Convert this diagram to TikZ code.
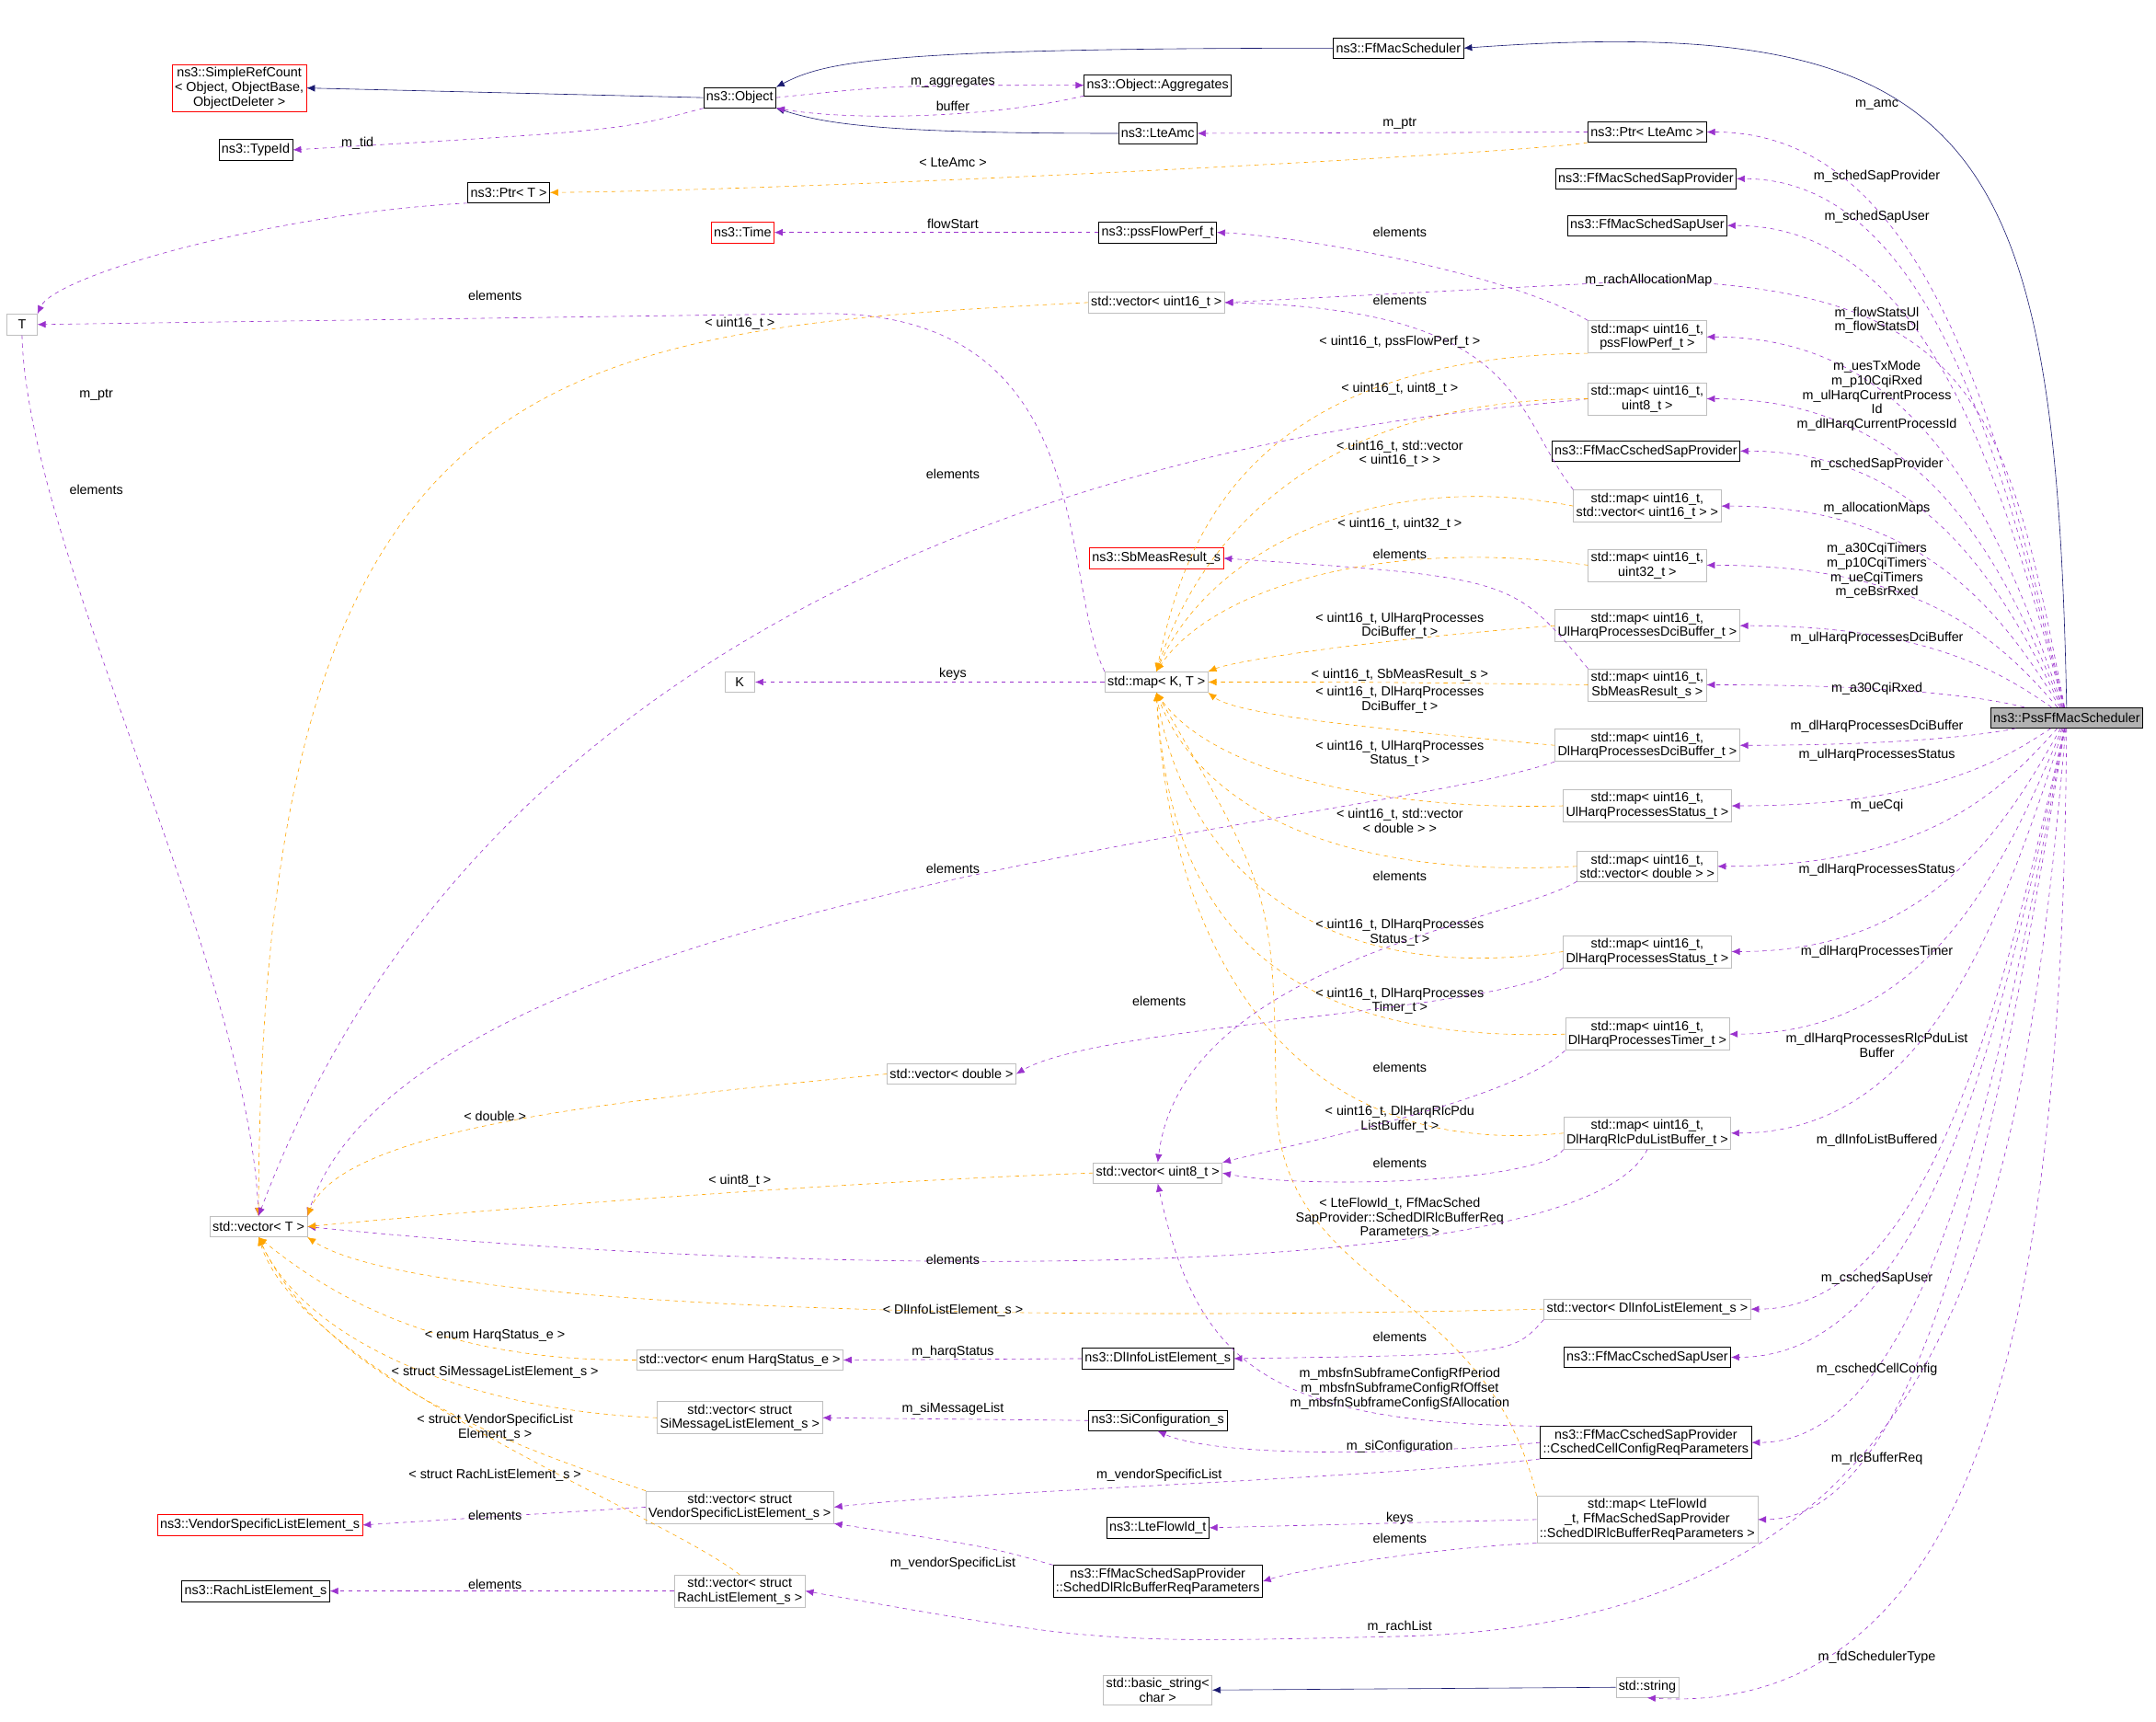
\documentclass[tikz,border=0pt]{standalone}
\usepackage{fontspec}
\setmainfont{Liberation Sans}
\usetikzlibrary{arrows.meta}
\definecolor{dpurple}{HTML}{9A32CD}
\definecolor{dorange}{HTML}{FFA500}
\definecolor{dnavy}{HTML}{191970}
\definecolor{gbord}{HTML}{BFBFBF}
\begin{document}
\begin{tikzpicture}[x=1pt,y=-1pt,
  box/.style={draw=black,fill=white,font=\fontsize{9.6}{10.5}\selectfont,inner sep=2pt,minimum height=15pt,align=center},
  gbox/.style={box,draw=gbord},
  rbox/.style={box,draw=red},
  lbl/.style={font=\fontsize{9.6}{10.5}\selectfont,inner sep=0.5pt,align=center},
  use/.style={draw=dpurple,dashed,-{Latex[length=6pt,width=5pt]}},
  tpl/.style={draw=dorange,dashed,-{Latex[length=6pt,width=5pt]}},
  inh/.style={draw=dnavy,-{Latex[length=6pt,width=5pt]}}]
\useasboundingbox (0,0) rectangle (1568,1251.6);
% nodes
\node[box] (ffms) at (1017,35) {ns3::FfMacScheduler};
\node[rbox] (src) at (174,64) {ns3::SimpleRefCount\\< Object, ObjectBase,\\ObjectDeleter >};
\node[box] (obj) at (538,71) {ns3::Object};
\node[box] (agg) at (842,62) {ns3::Object::Aggregates};
\node[box] (tid) at (186,109) {ns3::TypeId};
\node[box] (lteamc) at (842,97) {ns3::LteAmc};
\node[box] (ptrl) at (1198,96) {ns3::Ptr< LteAmc >};
\node[box] (ptrt) at (370,140) {ns3::Ptr< T >};
\node[box] (sapp) at (1197,130) {ns3::FfMacSchedSapProvider};
\node[box] (sapu) at (1198,164) {ns3::FfMacSchedSapUser};
\node[rbox] (time) at (540,169) {ns3::Time};
\node[box] (pfpt) at (842,169) {ns3::pssFlowPerf\_t};
\node[gbox,minimum width=22pt] (T) at (16,236) {T};
\node[gbox] (vu16) at (841,220) {std::vector< uint16\_t >};
\node[gbox] (mpfp) at (1198,245) {std::map< uint16\_t,\\pssFlowPerf\_t >};
\node[gbox] (mu8) at (1198,290) {std::map< uint16\_t,\\uint8\_t >};
\node[box] (csp) at (1197,328) {ns3::FfMacCschedSapProvider};
\node[gbox] (mvu16) at (1198,368) {std::map< uint16\_t,\\std::vector< uint16\_t > >};
\node[rbox] (sbm) at (841,406) {ns3::SbMeasResult\_s};
\node[gbox] (mu32) at (1198,411) {std::map< uint16\_t,\\uint32\_t >};
\node[gbox] (muld) at (1198,455) {std::map< uint16\_t,\\UlHarqProcessesDciBuffer\_t >};
\node[gbox,minimum width=22pt] (K) at (538,496) {K};
\node[gbox] (mkt) at (841,496) {std::map< K, T >};
\node[gbox] (msb) at (1198,498) {std::map< uint16\_t,\\SbMeasResult\_s >};
\node[gbox] (mdld) at (1198,542) {std::map< uint16\_t,\\DlHarqProcessesDciBuffer\_t >};
\node[gbox] (muls) at (1198,586) {std::map< uint16\_t,\\UlHarqProcessesStatus\_t >};
\node[gbox] (mvd) at (1198,630) {std::map< uint16\_t,\\std::vector< double > >};
\node[gbox] (mdls) at (1198,692) {std::map< uint16\_t,\\DlHarqProcessesStatus\_t >};
\node[gbox] (vd) at (692,781) {std::vector< double >};
\node[gbox] (mdlt) at (1198,752) {std::map< uint16\_t,\\DlHarqProcessesTimer\_t >};
\node[gbox] (mdlr) at (1198,824) {std::map< uint16\_t,\\DlHarqRlcPduListBuffer\_t >};
\node[gbox] (vu8) at (842,853) {std::vector< uint8\_t >};
\node[gbox] (vT) at (188,892) {std::vector< T >};
\node[box,fill=gray!60] (pss) at (1503,522) {ns3::PssFfMacScheduler};
\node[gbox] (vdi) at (1198,952) {std::vector< DlInfoListElement\_s >};
\node[box] (csu) at (1198,987) {ns3::FfMacCschedSapUser};
\node[gbox] (ve) at (538,989) {std::vector< enum HarqStatus\_e >};
\node[box] (dli) at (842,988) {ns3::DlInfoListElement\_s};
\node[gbox] (vsi) at (538,1031) {std::vector< struct\\SiMessageListElement\_s >};
\node[box] (sic) at (842,1033) {ns3::SiConfiguration\_s};
\node[box] (ccc) at (1197,1049) {ns3::FfMacCschedSapProvider\\::CschedCellConfigReqParameters};
\node[gbox] (vv) at (538,1096) {std::vector< struct\\VendorSpecificListElement\_s >};
\node[rbox] (vsle) at (189,1109) {ns3::VendorSpecificListElement\_s};
\node[box] (lft) at (842,1111) {ns3::LteFlowId\_t};
\node[gbox] (mlf) at (1198,1105) {std::map< LteFlowId\\\_t, FfMacSchedSapProvider\\::SchedDlRlcBufferReqParameters >};
\node[box] (sdr) at (842,1150) {ns3::FfMacSchedSapProvider\\::SchedDlRlcBufferReqParameters};
\node[box] (rach) at (186,1157) {ns3::RachListElement\_s};
\node[gbox] (vr) at (538,1157) {std::vector< struct\\RachListElement\_s >};
\node[gbox] (bs) at (842,1229) {std::basic\_string<\\char >};
\node[gbox] (str) at (1198,1227) {std::string};

% inheritance
\draw[inh] (pss.north) .. controls (1495,100) and (1440,8) .. (ffms.east);
\draw[inh] (obj.west) -- (src.east);
\draw[inh] (lteamc.west) .. controls (640,97) and (600,90) .. (obj.south east);
\draw[inh] (ffms.west) .. controls (640,35) and (600,45) .. (obj.north east);
\draw[inh] (str.west) -- (bs.east);

% top-left
\draw[use] (obj.south west) .. controls (450,95) .. (tid.east); \node[lbl] (l1) at (260,104) {m\_tid};
\draw[use] (obj.east) .. controls (650,62) .. (agg.west); \node[lbl] (l2) at (693,60) {m\_aggregates};
\draw[use] (agg.south west) .. controls (720,86) and (620,88) .. (obj.south east); \node[lbl] (l3) at (693,77) {buffer};
\draw[use] (ptrl.west) -- (lteamc.east); \node[lbl] (l4) at (1018,90) {m\_ptr};
\draw[tpl] (ptrl.south west) .. controls (1100,112) and (600,138) .. (ptrt.east); \node[lbl] (l5) at (693,118) {< LteAmc >};
\draw[use] (ptrt.south west) .. controls (200,155) and (40,200) .. (T.north east); \node[lbl] (l6) at (70,287) {m\_ptr};
\draw[use] (T.south) .. controls (20,400) and (180,700) .. (vT.north); \node[lbl] (l6b) at (70,356) {elements};
\draw[use] (pfpt.west) -- (time.east); \node[lbl] (l7) at (693,163) {flowStart};
\draw[use] (mpfp.north west) .. controls (1100,200) and (950,172) .. (pfpt.east); \node[lbl] (l8) at (1018,169) {elements};
\draw[use] (mkt.north west) .. controls (770,420) and (800,228) .. (600,228) -- (T.east); \node[lbl] (l9) at (360,215) {elements};
\draw[tpl] (vu16.west) .. controls (400,240) and (190,260) .. (vT.north); \node[lbl] (l10) at (538,235) {< uint16\_t >};
\draw[use] (mvu16.north west) .. controls (1100,300) and (1110,225) .. (vu16.east); \node[lbl] (l11) at (1018,218) {elements};
\draw[use] (mu8.west) .. controls (1090,300) and (400,320) .. (vT.north); \node[lbl] (l12) at (693,345) {elements};
\draw[use] (msb.north west) .. controls (1100,420) .. (sbm.east); \node[lbl] (l13) at (1018,403) {elements};
\draw[use] (mkt.west) -- (K.east); \node[lbl] (l14) at (693,490) {keys};

% template to map<K,T>
\draw[tpl] (mpfp.south west) .. controls (900,260) and (860,400) .. (mkt.north); \node[lbl] (o1) at (1018,249) {< uint16\_t, pssFlowPerf\_t >};
\draw[tpl] (mu8.west) .. controls (950,290) and (870,400) .. (mkt.north); \node[lbl] (o2) at (1018,283) {< uint16\_t, uint8\_t >};
\draw[tpl] (mvu16.west) .. controls (1000,340) and (880,400) .. (mkt.north); \node[lbl] (o3) at (1018,330) {< uint16\_t, std::vector\\< uint16\_t > >};
\draw[tpl] (mu32.west) .. controls (1000,390) and (880,430) .. (mkt.north); \node[lbl] (o4) at (1018,381) {< uint16\_t, uint32\_t >};
\draw[tpl] (muld.west) .. controls (1000,465) and (900,480) .. (mkt.north east); \node[lbl] (o5) at (1018,455) {< uint16\_t, UlHarqProcesses\\DciBuffer\_t >};
\draw[tpl] (msb.west) .. controls (1000,496) .. (mkt.east); \node[lbl] (o6) at (1018,491) {< uint16\_t, SbMeasResult\_s >};
\draw[tpl] (mdld.west) .. controls (1000,530) and (900,520) .. (mkt.south east); \node[lbl] (o7) at (1018,509) {< uint16\_t, DlHarqProcesses\\DciBuffer\_t >};
\draw[tpl] (muls.west) .. controls (1000,590) and (880,560) .. (mkt.south); \node[lbl] (o8) at (1018,548) {< uint16\_t, UlHarqProcesses\\Status\_t >};
\draw[tpl] (mvd.west) .. controls (960,640) and (870,580) .. (mkt.south); \node[lbl] (o9) at (1018,597) {< uint16\_t, std::vector\\< double > >};
\draw[tpl] (mdls.west) .. controls (950,720) and (860,620) .. (mkt.south); \node[lbl] (o10) at (1018,678) {< uint16\_t, DlHarqProcesses\\Status\_t >};
\draw[tpl] (mdlt.west) .. controls (900,760) and (850,640) .. (mkt.south); \node[lbl] (o11) at (1018,728) {< uint16\_t, DlHarqProcesses\\Timer\_t >};
\draw[tpl] (mdlr.west) .. controls (930,845) and (850,680) .. (mkt.south); \node[lbl] (o12) at (1018,814) {< uint16\_t, DlHarqRlcPdu\\ListBuffer\_t >};
\draw[tpl] (mlf.north west) .. controls (1080,930) and (930,940) .. (928,800) .. controls (926,650) .. (mkt.south); \node[lbl] (o13) at (1018,885) {< LteFlowId\_t, FfMacSched\\SapProvider::SchedDlRlcBufferReq\\Parameters >};

% middle usage
\draw[use] (mdld.south west) .. controls (1000,600) and (300,650) .. (vT.north east); \node[lbl] (l15) at (693,632) {elements};
\draw[use] (mvd.south west) .. controls (1100,670) and (860,700) .. (vu8.north); \node[lbl] (l16) at (1018,637) {elements};
\draw[use] (mdls.south west) .. controls (1100,735) and (800,745) .. (vd.east); \node[lbl] (l17) at (843,728) {elements};
\draw[use] (mdlt.south west) .. controls (1100,800) and (950,830) .. (vu8.north east); \node[lbl] (l18) at (1018,776) {elements};
\draw[use] (mdlr.south west) .. controls (1120,860) and (950,865) .. (vu8.east); \node[lbl] (l19) at (1018,846) {elements};
\draw[use] (mdlr.south) .. controls (1150,935) and (600,930) .. (vT.east); \node[lbl] (l20) at (693,916) {elements};
\draw[tpl] (vd.west) .. controls (450,800) and (250,820) .. (vT.north east); \node[lbl] (l21) at (360,812) {< double >};
\draw[tpl] (vu8.west) .. controls (600,860) and (350,880) .. (vT.east); \node[lbl] (l22) at (538,859) {< uint8\_t >};

% lower
\draw[tpl] (vdi.west) .. controls (700,962) and (300,950) .. (vT.south east); \node[lbl] (l23) at (693,953) {< DlInfoListElement\_s >};
\draw[use] (dli.west) -- (ve.east); \node[lbl] (l24) at (693,983) {m\_harqStatus};
\draw[use] (vdi.south west) .. controls (1100,985) .. (dli.east); \node[lbl] (l25) at (1018,972) {elements};
\draw[tpl] (ve.west) .. controls (330,990) and (250,950) .. (vT.south); \node[lbl] (l26) at (360,971) {< enum HarqStatus\_e >};
\draw[tpl] (vsi.west) .. controls (330,1025) and (220,970) .. (vT.south); \node[lbl] (l27) at (360,998) {< struct SiMessageListElement\_s >};
\draw[use] (sic.west) -- (vsi.east); \node[lbl] (l28) at (693,1025) {m\_siMessageList};
\draw[use] (ccc.west) .. controls (1000,1060) and (880,1058) .. (sic.south); \node[lbl] (l29) at (1018,1052) {m\_siConfiguration};
\draw[use] (ccc.north west) .. controls (920,1035) and (870,990) .. (vu8.south); \node[lbl] (l30) at (1018,1010) {m\_mbsfnSubframeConfigRfPeriod\\m\_mbsfnSubframeConfigRfOffset\\m\_mbsfnSubframeConfigSfAllocation};
\draw[tpl] (vv.north west) .. controls (400,1060) and (240,1010) .. (vT.south); \node[lbl] (l31) at (360,1038) {< struct VendorSpecificList\\Element\_s >};
\draw[use] (ccc.south west) .. controls (1000,1075) and (700,1085) .. (vv.east); \node[lbl] (l32) at (843,1073) {m\_vendorSpecificList};
\draw[use] (vv.west) -- (vsle.east); \node[lbl] (l33) at (360,1102) {elements};
\draw[tpl] (vr.north) .. controls (480,1100) and (220,1000) .. (vT.south); \node[lbl] (l34) at (360,1073) {< struct RachListElement\_s >};
\draw[use] (vr.west) -- (rach.east); \node[lbl] (l35) at (360,1152) {elements};
\draw[use] (sdr.north west) .. controls (720,1125) .. (vv.south east); \node[lbl] (l36) at (693,1137) {m\_vendorSpecificList};
\draw[use] (mlf.west) -- (lft.east); \node[lbl] (l37) at (1018,1104) {keys};
\draw[use] (mlf.south west) .. controls (1050,1125) and (950,1140) .. (sdr.east); \node[lbl] (l38) at (1018,1119) {elements};

% PssFfMacScheduler members
\newcommand{\mem}[4]{\draw[use] (pss) .. controls (1455,{(#2+522)/2}) and (1400,#2) .. (#1);
  \node[lbl] at (#4) {#3};}
\mem{ptrl}{96}{m\_amc}{1365,76}
\mem{sapp}{130}{m\_schedSapProvider}{1365,128}
\mem{sapu}{164}{m\_schedSapUser}{1365,158}
\draw[use] (pss) .. controls (1460,300) and (1440,210) .. (1200,204) -- (vu16.east); \node[lbl] at (1199,204) {m\_rachAllocationMap};
\mem{mpfp}{245}{m\_flowStatsUl\\m\_flowStatsDl}{1365,233}
\mem{mu8}{290}{m\_uesTxMode\\m\_p10CqiRxed\\m\_ulHarqCurrentProcess\\Id\\m\_dlHarqCurrentProcessId}{1365,288}
\mem{csp}{328}{m\_cschedSapProvider}{1365,338}
\mem{mvu16}{368}{m\_allocationMaps}{1365,370}
\mem{mu32}{411}{m\_a30CqiTimers\\m\_p10CqiTimers\\m\_ueCqiTimers\\m\_ceBsrRxed}{1365,415}
\mem{muld}{455}{m\_ulHarqProcessesDciBuffer}{1365,464}
\mem{msb}{498}{m\_a30CqiRxed}{1365,501}
\mem{mdld}{542}{m\_dlHarqProcessesDciBuffer}{1365,528}
\mem{muls}{586}{m\_ulHarqProcessesStatus}{1365,549}
\mem{mvd}{630}{m\_ueCqi}{1365,586}
\mem{mdls}{692}{m\_dlHarqProcessesStatus}{1365,633}
\mem{mdlt}{752}{m\_dlHarqProcessesTimer}{1365,692}
\mem{mdlr}{824}{m\_dlHarqProcessesRlcPduList\\Buffer}{1365,760}
\mem{vdi}{952}{m\_dlInfoListBuffered}{1365,829}
\mem{csu}{987}{m\_cschedSapUser}{1365,930}
\mem{ccc}{1049}{m\_cschedCellConfig}{1365,996}
\mem{mlf}{1105}{m\_rlcBufferReq}{1365,1061}
\draw[use] (pss) .. controls (1470,900) and (1420,1180) .. (1018,1190) .. controls (800,1195) .. (vr.east); \node[lbl] at (1018,1183) {m\_rachList};
\draw[use] (pss) .. controls (1500,900) and (1460,1250) .. (str.south); \node[lbl] at (1365,1205) {m\_fdSchedulerType};
\end{tikzpicture}
\end{document}
